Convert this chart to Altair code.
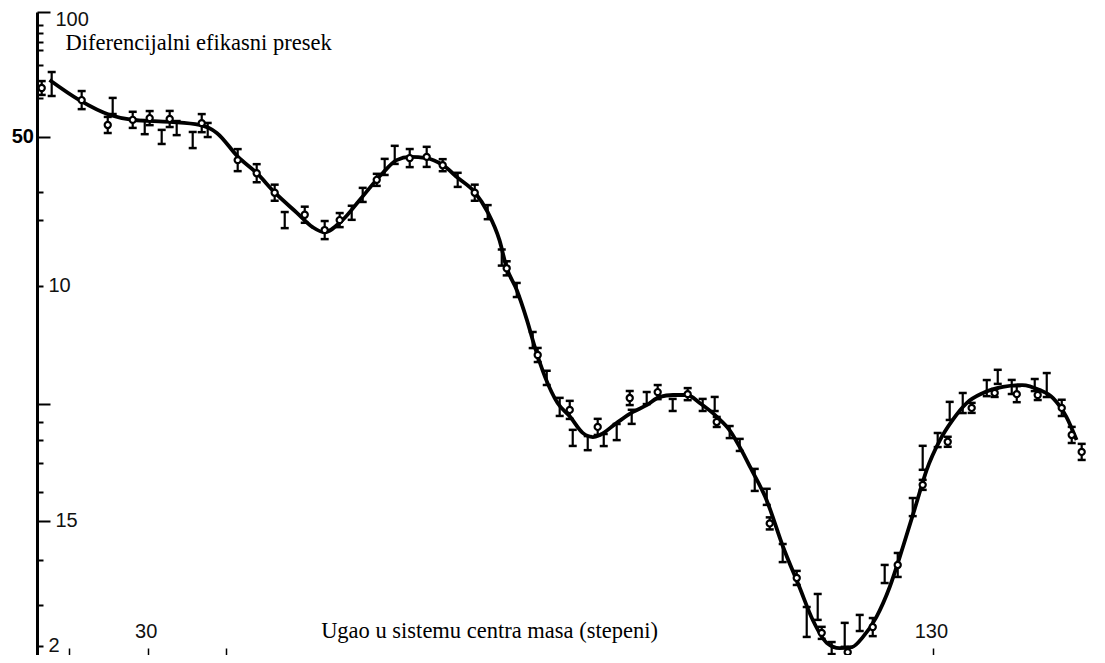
import altair as alt
import pandas as pd

# ---------------- data ----------------
# smooth fitted curve
curve_angle = [17.5, 21.3, 25.2, 28.1, 32.8, 36.6, 38.8, 41.5, 43.9, 46.2, 49.0, 51.0, 52.5,
               54.8, 57.0, 59.9, 61.7, 63.4, 65.5, 67.6, 69.5, 71.7, 73.3, 74.8, 75.7, 77.0,
               78.3, 79.3, 80.6, 82.2, 83.8, 85.4, 86.7, 87.6, 89.7, 91.8, 93.6, 95.2, 96.9,
               98.7, 100.3, 102.5, 104.1, 105.8, 106.7, 108.8, 110.9, 113.0, 114.7, 116.5,
               118.1, 119.7, 121.1, 122.8, 124.5, 126.2, 127.9, 129.2, 130.9, 132.5, 134.3,
               136.4, 138.9, 141.4, 143.6, 145.3, 147.0, 148.3]
curve_sigma = [56.5, 47.7, 42.1, 40.4, 39.7, 38.7, 36.2, 29.6, 25.8, 21.9, 18.5, 16.4, 15.7,
               17.4, 20.6, 25.8, 28.8, 29.6, 29.3, 27.6, 24.8, 21.9, 18.6, 14.7, 11.7, 9.67,
               7.51, 5.99, 4.66, 3.74, 3.33, 2.91, 2.81, 2.86, 3.16, 3.47, 3.68, 3.94, 4.00,
               4.00, 3.74, 3.33, 2.98, 2.46, 2.19, 1.66, 1.12, 0.797, 0.604, 0.498,
               0.477, 0.481, 0.524, 0.619, 0.797, 1.12, 1.61, 2.13, 2.74, 3.24, 3.74,
               4.07, 4.28, 4.35, 4.17, 3.90, 3.33, 2.74]

# measured points drawn with an open circle (angle, cross section, relative error)
circ_angle = [16.5, 21.59, 24.91, 28.09, 30.25, 32.80, 36.88, 41.46, 43.88, 46.17, 50.00,
              52.54, 54.45, 59.17, 63.37, 65.53, 67.57, 71.65, 75.72, 79.67, 83.75, 87.31,
              91.39, 94.95, 98.77, 102.47, 109.22, 112.66, 115.84, 119.15, 122.34, 125.52,
              128.70, 131.89, 134.94, 137.87, 140.68, 143.35, 146.41, 147.68, 148.95]
circ_sigma = [52.8, 47.7, 38.7, 40.4, 41.0, 40.7, 39.3, 28.8, 25.8, 21.9, 18.2,
              16.0, 17.4, 24.4, 29.3, 29.6, 27.6, 21.9, 11.6, 5.60, 3.53, 3.06,
              3.90, 4.10, 4.03, 3.19, 1.36, 0.860, 0.542, 0.461, 0.569, 0.959,
              1.88, 2.70, 3.59, 4.07, 4.03, 4.00, 3.59, 2.86, 2.48]
circ_err = [0.060, 0.079, 0.070, 0.070, 0.061, 0.070, 0.079, 0.097, 0.079, 0.070, 0.070,
            0.079, 0.061, 0.052, 0.079, 0.088, 0.052, 0.070, 0.061, 0.061, 0.079, 0.070,
            0.061, 0.061, 0.052, 0.043, 0.052, 0.061, 0.052, 0.043, 0.079, 0.106,
            0.043, 0.043, 0.043, 0.034, 0.070, 0.043, 0.070, 0.070, 0.070]

# measured points drawn with an error bar only
bar_angle = [17.77, 25.54, 29.62, 31.78, 33.69, 35.73, 37.64, 47.45, 55.98, 57.38, 60.18,
             61.46, 69.48, 73.30, 75.09, 77.00, 79.03, 80.82, 82.47, 84.13, 86.04, 88.08,
             89.73, 91.64, 93.55, 96.86, 100.68, 102.21, 104.12, 105.40, 107.31, 108.84,
             110.87, 113.93, 115.33, 117.11, 118.77, 120.68, 123.86, 127.43, 128.70, 130.61,
             132.14, 133.80, 136.86, 138.26, 140.04, 142.97, 144.50]
bar_sigma = [54.6, 45.4, 38.0, 35.0, 37.7, 34.1, 37.1, 17.4, 18.5, 21.5, 27.2,
             30.1, 24.4, 18.6, 12.7, 9.67, 6.35, 4.62, 3.62, 2.79, 2.67, 2.74,
             2.93, 3.33, 3.90, 3.68, 3.68, 3.71, 2.93, 2.63, 1.96, 1.70,
             1.06, 0.594, 0.674, 0.477, 0.533, 0.589, 0.889, 1.56, 2.36, 2.74,
             3.50, 3.74, 4.24, 4.66, 4.28, 4.35, 4.35]
bar_err = [0.106, 0.070, 0.061, 0.061, 0.061, 0.070, 0.061, 0.070, 0.061, 0.061, 0.070,
           0.079, 0.061, 0.061, 0.070, 0.061, 0.070, 0.061, 0.079, 0.070, 0.061, 0.052,
           0.070, 0.061, 0.052, 0.052, 0.052, 0.061, 0.052, 0.052, 0.097, 0.070,
           0.079, 0.134, 0.115, 0.052, 0.106, 0.070, 0.079, 0.079, 0.106, 0.061,
           0.079, 0.088, 0.070, 0.061, 0.061, 0.052, 0.106]

# axis ticks and their (odd) labels as printed on the figure
x_range = [15.9, 150.9]
y_range = [0.45, 100]
x_tick_vals = [20, 30, 40, 130]
x_label_vals = [30, 130]
y_major_vals = [100, 35, 3.71, 1.388]
y_minor_vals = [89.7, 83.8, 77.7, 72.7, 64.1, 48.6, 22.0, 17.4, 10, 3.19, 2.74, 2.26,
                1.77, 1.0, 0.685, 0.486]
y_label_vals = [100, 10, 1.388, 0.486]
y_label_text = ["100", "10", "15", "2"]
left_label_vals = [35]
left_label_text = ["50"]

x_title = "Ugao u sistemu centra masa (stepeni)"
y_title = "Diferencijalni efikasni presek"

# ---------------- tables ----------------
df_curve = pd.DataFrame({"angle": curve_angle, "sigma": curve_sigma})
df_circ = pd.DataFrame({"angle": circ_angle, "sigma": circ_sigma, "err": circ_err})
df_bar = pd.DataFrame({"angle": bar_angle, "sigma": bar_sigma, "err": bar_err})
df_all = pd.concat([df_circ, df_bar], ignore_index=True)
df_left = pd.DataFrame({"angle": [x_range[0]] * len(left_label_vals),
                        "sigma": left_label_vals, "txt": left_label_text})

W, H = 1060, 643

def match(v):
    return f"abs(datum.value / {v} - 1) < 0.002"

label_expr = "''"
for v, t in reversed(list(zip(y_label_vals, y_label_text))):
    label_expr = f"{match(v)} ? '{t}' : {label_expr}"
major_test = " || ".join(f"({match(v)})" for v in y_major_vals)
x_label_expr = "(" + " || ".join(f"datum.value == {v}" for v in x_label_vals) + ") ? datum.label : ''"

x_scale = alt.Scale(domain=x_range, nice=False, zero=False)
y_scale = alt.Scale(type="log", domain=y_range, nice=False)

x_axis = alt.Axis(
    orient="top", offset=-H, values=x_tick_vals, labelExpr=x_label_expr,
    domain=False, grid=False, tickSize=7, tickWidth=1.5, tickColor="black",
    labelPadding=11, labelBaseline="alphabetic", labelFont="Liberation Sans",
    labelFontSize=20, labelColor="#111", labelFlush=False, labelOffset=-2,
    title=x_title, titleX=452, titleY=-18, titleAlign="center", titleAngle=0,
    titleBaseline="alphabetic", titleFont="Liberation Serif", titleFontSize=22.5,
    titleFontWeight="normal", titleColor="black",
)
y_axis = alt.Axis(
    orient="right", offset=-W, values=sorted(y_major_vals + y_minor_vals),
    labelExpr=label_expr, grid=False,
    tickSize={"condition": {"test": major_test, "value": 13}, "value": 6},
    tickWidth=2, tickColor="black", domainColor="black", domainWidth=3,
    labelPadding=5,
    labelOffset={"condition": {"test": match(100), "value": 7}, "value": 0},
    labelFont="Liberation Sans", labelFontSize=20, labelColor="#111",
    labelFlush=False, labelOverlap=False, labelBaseline="middle",
    title=y_title, titleX=28, titleY=37, titleAngle=0, titleAlign="left",
    titleBaseline="alphabetic", titleFont="Liberation Serif", titleFontSize=22.5,
    titleFontWeight="normal", titleColor="black",
)

X = alt.X("angle:Q", scale=x_scale, axis=x_axis)

curve = alt.Chart(df_curve).mark_line(
    color="black", strokeWidth=3.8, interpolate="monotone", clip=True
).encode(
    x=X,
    y=alt.Y("sigma:Q", scale=y_scale, axis=y_axis),
)

err_base = alt.Chart(df_all).transform_calculate(
    lo="datum.sigma / (1 + datum.err)", hi="datum.sigma * (1 + datum.err)"
)
bars = err_base.mark_rule(color="black", strokeWidth=2.2, clip=True).encode(
    x=X,
    y=alt.Y("lo:Q", scale=y_scale, axis=y_axis),
    y2="hi:Q",
)
cap_lo = err_base.mark_tick(color="black", orient="horizontal", size=8, thickness=2.5,
                            opacity=1, clip=True).encode(
    x=X,
    y=alt.Y("lo:Q", scale=y_scale, axis=y_axis),
)
cap_hi = err_base.mark_tick(color="black", orient="horizontal", size=8, thickness=2.5,
                            opacity=1, clip=True).encode(
    x=X,
    y=alt.Y("hi:Q", scale=y_scale, axis=y_axis),
)
circles = alt.Chart(df_circ).mark_point(
    shape="circle", filled=True, color="white", stroke="black", strokeWidth=2.2,
    size=38, opacity=1, clip=True
).encode(
    x=X,
    y=alt.Y("sigma:Q", scale=y_scale, axis=y_axis),
)
left_lab = alt.Chart(df_left).mark_text(
    align="right", baseline="middle", dx=-3, font="Liberation Sans", fontSize=20,
    fontWeight="bold", color="black"
).encode(
    x=X,
    y=alt.Y("sigma:Q", scale=y_scale, axis=y_axis),
    text="txt:N",
)

chart = alt.layer(curve, bars, cap_lo, cap_hi, circles, left_lab).properties(
    width=W, height=H,
    autosize=alt.AutoSizeParams(type="none"),
    padding={"left": 29, "top": 4, "right": 0, "bottom": 0},
    background="white",
).configure_view(stroke=None)

chart.save("out.html", embed_options={"renderer": "svg", "actions": False})
